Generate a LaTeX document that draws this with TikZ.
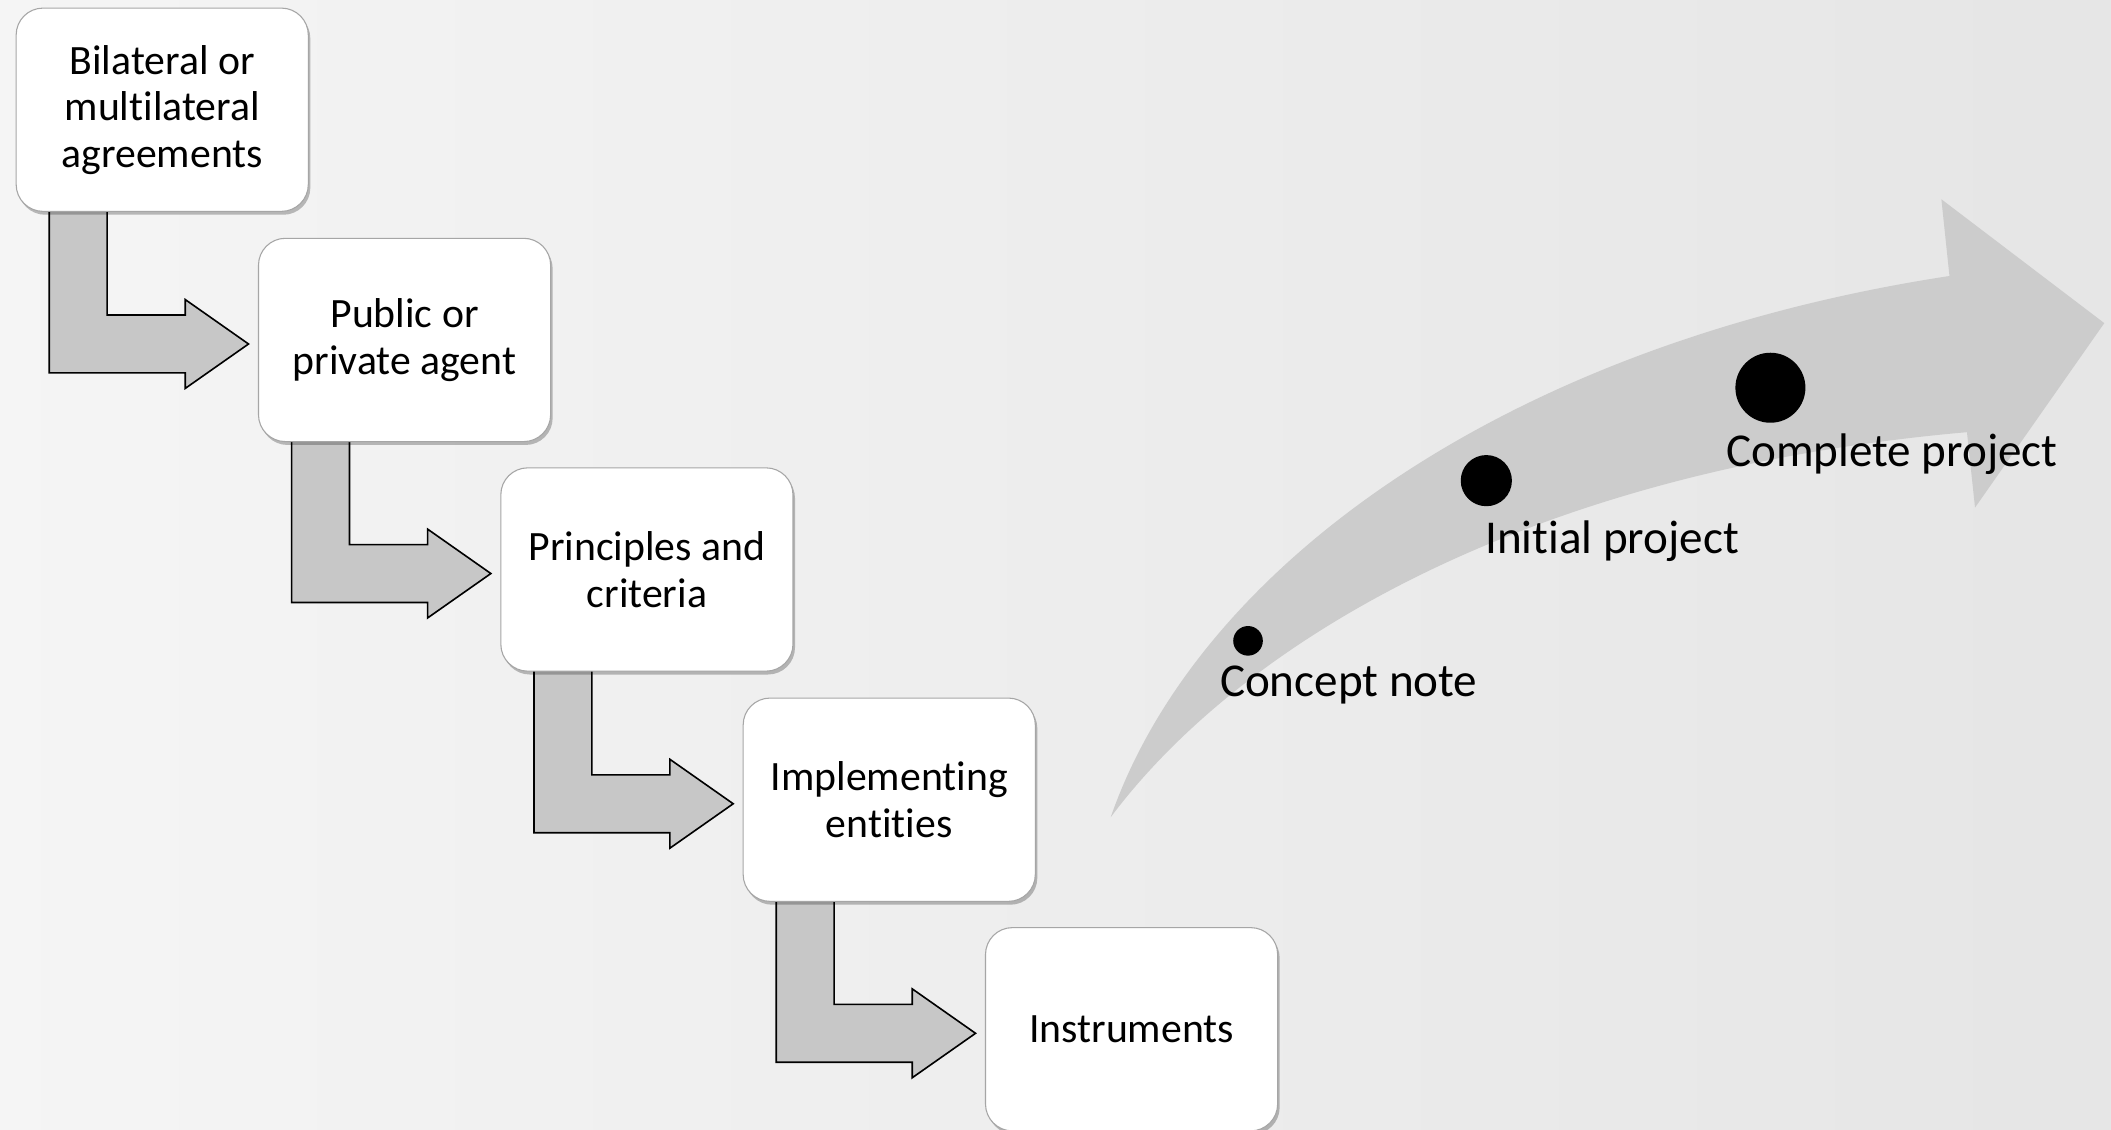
\documentclass[tikz,border=0pt]{standalone}
\usepackage{fontspec}
\setmainfont{Carlito}[Ligatures=NoCommon]
\usetikzlibrary{calc,shadows}
\pgfdeclarelayer{fondo}
\pgfdeclarelayer{atras}
\pgfsetlayers{fondo,atras,main}
\begin{document}
\begin{tikzpicture}[x=1pt,y=-1pt,
  caja/.style={draw=black!35,line width=0.8pt,fill=white,rounded corners=20pt,
    minimum width=217pt,minimum height=151pt,align=center,inner sep=0pt,
    font=\fontsize{31}{34.5}\selectfont,
    drop shadow={shadow xshift=1.5pt,shadow yshift=-2.5pt,opacity=0.25,fill=black}},
  codo/.style={draw=black,line width=1.2pt,fill=black!22,line join=miter},
  punto/.style={circle,fill=black,inner sep=0pt},
  etiqueta/.style={anchor=west,inner sep=0pt,font=\fontsize{35}{40}\selectfont}]
% Fondo
\begin{pgfonlayer}{fondo}
\shade[left color=black!4,right color=black!10] (0,0) rectangle (1568,838.6);
\end{pgfonlayer}
\useasboundingbox (0,0) rectangle (1568,838.6);

% Cajas de la escalera
\node[caja] (b1) at (120.5,81.5) {Bilateral or\\multilateral\\agreements};
\node[caja] (b2) at (300.5,252.5) {Public or\\private agent};
\node[caja] (b3) at (480.5,423) {Principles and\\criteria};
\node[caja] (b4) at (660.5,594) {Implementing\\entities};
\node[caja] (b5) at (840.5,764.5) {Instruments};

% Flechas en codo
\begin{pgfonlayer}{atras}
\draw[codo] ($(b1.south west)+(68,-3)$) |- ($(b2.west)+(-54,-18.5)$) -- ++(0,-11.5) -- ($(b2.west)+(-7,3)$) -- ++(-47,33) -- ++(0,-11.5) -| ($(b1.south west)+(25,-3)$) -- cycle;
\draw[codo] ($(b2.south west)+(68,-3)$) |- ($(b3.west)+(-54,-18.5)$) -- ++(0,-11.5) -- ($(b3.west)+(-7,3)$) -- ++(-47,33) -- ++(0,-11.5) -| ($(b2.south west)+(25,-3)$) -- cycle;
\draw[codo] ($(b3.south west)+(68,-3)$) |- ($(b4.west)+(-54,-18.5)$) -- ++(0,-11.5) -- ($(b4.west)+(-7,3)$) -- ++(-47,33) -- ++(0,-11.5) -| ($(b3.south west)+(25,-3)$) -- cycle;
\draw[codo] ($(b4.south west)+(68,-3)$) |- ($(b5.west)+(-54,-18.5)$) -- ++(0,-11.5) -- ($(b5.west)+(-7,3)$) -- ++(-47,33) -- ++(0,-11.5) -| ($(b4.south west)+(25,-3)$) -- cycle;
\end{pgfonlayer}

% Flecha curva
\fill[black!20] (825,607) .. controls (890,420) and (1120,255) .. (1448,205) -- (1442,148) -- (1563,240) -- (1467,377) -- (1461,321) .. controls (1130,350) and (920,480) .. (825,607) -- cycle;

% Etapas
\node[punto,minimum size=22pt] (p1) at (927,476) {};
\node[punto,minimum size=38pt] (p2) at (1104,357) {};
\node[punto,minimum size=52pt] (p3) at (1315,288) {};
\node[etiqueta] (e1) at (906,509) {Concept note};
\node[etiqueta] (e2) at (1103,402) {Initial project};
\node[etiqueta] (e3) at (1282,337) {Complete project};

\end{tikzpicture}
\end{document}
